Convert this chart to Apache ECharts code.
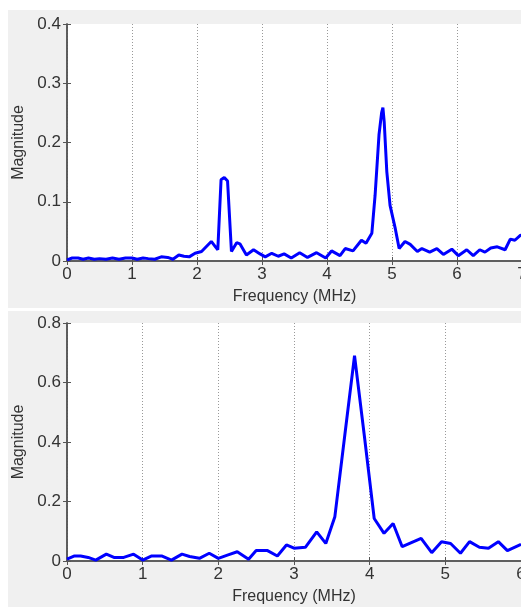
<!DOCTYPE html>
<html>
<head>
<meta charset="utf-8">
<script src="https://cdn.jsdelivr.net/npm/echarts@6/dist/echarts.min.js"></script>
<style>
  html, body { margin: 0; padding: 0; background: #fff; }
  #chart { width: 521px; height: 607px; }
</style>
</head>
<body>
<div id="chart"></div>
<script>
// top spectrum (MHz, magnitude)
const topFreq = [0, 0.08, 0.17, 0.25, 0.33, 0.42, 0.5, 0.6, 0.7, 0.8, 0.9, 1.0, 1.08, 1.17, 1.25, 1.35, 1.45, 1.55, 1.63, 1.72, 1.8, 1.88, 1.97, 2.07, 2.22, 2.29, 2.32, 2.37, 2.42, 2.47, 2.53, 2.61, 2.66, 2.76, 2.87, 2.97, 3.05, 3.15, 3.25, 3.34, 3.45, 3.58, 3.70, 3.84, 3.98, 4.07, 4.2, 4.28, 4.40, 4.53, 4.6, 4.69, 4.74, 4.8, 4.84, 4.86, 4.88, 4.92, 4.97, 5.05, 5.11, 5.2, 5.28, 5.39, 5.46, 5.58, 5.69, 5.79, 5.92, 6.02, 6.15, 6.25, 6.35, 6.43, 6.52, 6.62, 6.74, 6.82, 6.89, 6.97, 7.0]
const topMag = [0.002, 0.005, 0.005, 0.003, 0.005, 0.003, 0.004, 0.003, 0.005, 0.003, 0.005, 0.005, 0.003, 0.005, 0.004, 0.003, 0.007, 0.006, 0.003, 0.010, 0.008, 0.007, 0.013, 0.016, 0.033, 0.023, 0.019, 0.137, 0.141, 0.135, 0.016, 0.031, 0.029, 0.010, 0.019, 0.012, 0.007, 0.013, 0.008, 0.012, 0.005, 0.014, 0.006, 0.014, 0.005, 0.017, 0.009, 0.021, 0.017, 0.035, 0.030, 0.047, 0.111, 0.213, 0.250, 0.259, 0.235, 0.151, 0.094, 0.055, 0.021, 0.033, 0.028, 0.016, 0.021, 0.015, 0.021, 0.011, 0.020, 0.009, 0.019, 0.009, 0.019, 0.015, 0.022, 0.024, 0.019, 0.037, 0.035, 0.043, 0.044]

// bottom spectrum
const botFreq = [0, 0.1, 0.18, 0.28, 0.38, 0.52, 0.62, 0.75, 0.88, 1.0, 1.12, 1.25, 1.38, 1.52, 1.62, 1.75, 1.88, 2.0, 2.12, 2.25, 2.4, 2.5, 2.65, 2.78, 2.9, 3.0, 3.15, 3.3, 3.42, 3.54, 3.67, 3.8, 3.93, 4.06, 4.19, 4.31, 4.43, 4.68, 4.82, 4.95, 5.07, 5.2, 5.32, 5.45, 5.57, 5.7, 5.82, 6.0]
const botMag = [0.006, 0.017, 0.017, 0.012, 0.003, 0.023, 0.012, 0.012, 0.023, 0.003, 0.017, 0.017, 0.003, 0.023, 0.015, 0.009, 0.026, 0.009, 0.020, 0.031, 0.006, 0.035, 0.035, 0.017, 0.054, 0.043, 0.046, 0.098, 0.059, 0.149, 0.42, 0.69, 0.42, 0.143, 0.093, 0.126, 0.048, 0.076, 0.028, 0.065, 0.059, 0.026, 0.065, 0.046, 0.043, 0.065, 0.035, 0.056]

const topXMax = 7
const botXMax = 6
const topYTicks = [0, 0.1, 0.2, 0.3, 0.4]
const botYTicks = [0, 0.2, 0.4, 0.6, 0.8]

const font = 'Liberation Sans, Arial, sans-serif'
const boxColor = '#555'
const textColor = '#333'

function pairs(xs, ys) {
  return xs.map((x, i) => [x, ys[i]])
}

function xAxes(grid, max) {
  return [{
    type: 'value',
    gridIndex: grid,
    min: 0,
    max: max,
    interval: 1,
    name: 'Frequency (MHz)',
    nameLocation: 'middle',
    nameGap: 28,
    nameTextStyle: { color: textColor, fontSize: 16, fontFamily: font },
    axisLine: { lineStyle: { color: boxColor, width: 1.5 } },
    axisTick: { inside: true, length: 4, lineStyle: { color: boxColor } },
    axisLabel: { color: textColor, fontSize: 17, fontFamily: font, margin: 5 },
    splitLine: { show: true, lineStyle: { color: '#999', type: [1, 2], width: 1 } }
  }, {
    type: 'value',
    gridIndex: grid,
    position: 'top',
    min: 0,
    max: max,
    interval: 1,
    axisLine: { lineStyle: { color: boxColor, width: 1.5 } },
    axisTick: { inside: true, length: 4, lineStyle: { color: boxColor } },
    axisLabel: { show: false },
    splitLine: { show: false }
  }]
}

function yAxes(grid, ticks) {
  const max = ticks[ticks.length - 1]
  const interval = ticks[1] - ticks[0]
  return [{
    type: 'value',
    gridIndex: grid,
    min: 0,
    max: max,
    interval: interval,
    name: 'Magnitude',
    nameLocation: 'middle',
    nameGap: 40,
    nameTextStyle: { color: textColor, fontSize: 16, fontFamily: font },
    axisLine: { show: true, lineStyle: { color: boxColor, width: 1.5 } },
    axisTick: { show: true, inside: true, length: 4, lineStyle: { color: boxColor } },
    axisLabel: { color: textColor, fontSize: 17, fontFamily: font, margin: 6 },
    splitLine: { show: false }
  }, {
    type: 'value',
    gridIndex: grid,
    position: 'right',
    min: 0,
    max: max,
    interval: interval,
    axisLine: { show: true, lineStyle: { color: boxColor, width: 1.5 } },
    axisTick: { show: true, inside: true, length: 4, lineStyle: { color: boxColor } },
    axisLabel: { show: false },
    splitLine: { show: false }
  }]
}

const chart = echarts.init(document.getElementById('chart'))
chart.setOption({
  backgroundColor: '#fff',
  animation: false,
  graphic: [
    { type: 'rect', z: -10, shape: { x: 8, y: 10, width: 513, height: 298 }, style: { fill: '#f0f0f0' } },
    { type: 'rect', z: -10, shape: { x: 8, y: 311, width: 513, height: 296 }, style: { fill: '#f0f0f0' } }
  ],
  grid: [
    { left: 67, top: 24, width: 455, height: 237, show: true, backgroundColor: '#fff', borderWidth: 0, outerBoundsMode: 'none' },
    { left: 67, top: 323, width: 454, height: 238, show: true, backgroundColor: '#fff', borderWidth: 0, outerBoundsMode: 'none' }
  ],
  xAxis: [...xAxes(0, topXMax), ...xAxes(1, botXMax)],
  yAxis: [...yAxes(0, topYTicks), ...yAxes(1, botYTicks)],
  series: [{
    type: 'line',
    xAxisIndex: 0,
    yAxisIndex: 0,
    showSymbol: false,
    lineStyle: { color: '#0000ff', width: 3 },
    data: pairs(topFreq, topMag)
  }, {
    type: 'line',
    xAxisIndex: 2,
    yAxisIndex: 2,
    showSymbol: false,
    lineStyle: { color: '#0000ff', width: 3 },
    data: pairs(botFreq, botMag)
  }]
})
</script>
</body>
</html>
